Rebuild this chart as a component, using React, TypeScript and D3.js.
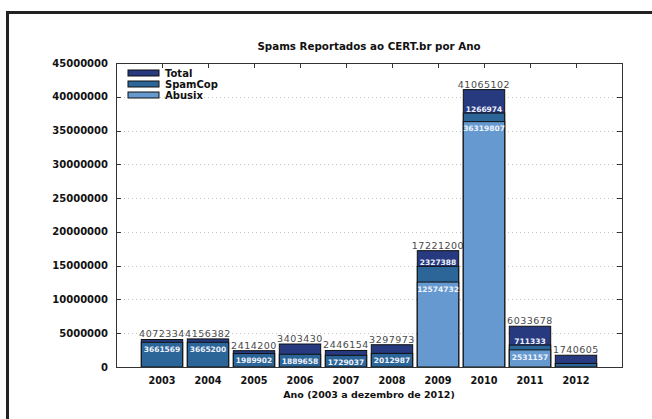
import * as d3 from "d3";

const WIDTH = 652;
const HEIGHT = 419;
const MARGIN = {top: 63, right: 30, bottom: 52, left: 116};

const years = [2003, 2004, 2005, 2006, 2007, 2008, 2009, 2010, 2011, 2012];
const totals = [4072334, 4156382, 2414200, 3403430, 2446154, 3297973, 17221200, 41065102, 6033678, 1740605];
const spamcop = [3661569, 3665200, 1989902, 1889658, 1729037, 2012987, 2327388, 1266974, 711333, 520000];
const abusix = [0, 0, 0, 0, 0, 0, 12574732, 36319807, 2531157, 0];
const showInner = [true, true, true, true, true, true, true, true, true, false];
const yTicks = [0, 5000000, 10000000, 15000000, 20000000, 25000000, 30000000, 35000000, 40000000, 45000000];

const COLORS = {total: "#27397f", spamcop: "#2c6699", abusix: "#6599cf"};
const FONT = "DejaVu Sans, sans-serif";

const App = () => {
    const boundsWidth = WIDTH - MARGIN.left - MARGIN.right;
    const boundsHeight = HEIGHT - MARGIN.top - MARGIN.bottom;

    const x = d3.scaleLinear().domain([2002, 2013]).range([0, boundsWidth]);
    const y = d3.scaleLinear().domain([0, 45000000]).range([boundsHeight, 0]);
    const barW = (x(2003) - x(2002)) * 0.9;

    // one entry per year, segments stacked abusix -> spamcop -> rest of total
    const bars = years.map((yr, i) => {
        const a = abusix[i];
        const s = spamcop[i];
        return {
            yr, i,
            x0: x(yr) - barW / 2,
            abusixTop: y(a),
            spamTop: y(a + s),
            totalTop: y(totals[i]),
        };
    });

    const legend = [
        {label: "Total", color: COLORS.total},
        {label: "SpamCop", color: COLORS.spamcop},
        {label: "Abusix", color: COLORS.abusix},
    ];

    return (
        <svg width={WIDTH} height={HEIGHT}
             style={{position: "absolute", left: 0, top: 0, background: "#fff"}}
             fontFamily={FONT}>
            {/* outer frame, open to the right and bottom */}
            <path d={`M7.5,${HEIGHT} V12.5 H${WIDTH}`} fill="none" stroke="#222" strokeWidth={3}/>

            <text x={MARGIN.left + boundsWidth / 2} y={50} textAnchor="middle"
                  fontSize={10.3} fontWeight="bold" fill="#111">Spams Reportados ao CERT.br por Ano</text>

            <g transform={`translate(${MARGIN.left},${MARGIN.top})`}>
                {yTicks.map(t => (
                    <g key={t}>
                        {t > 0 && t < 45000000 && (
                            <line x1={0} x2={boundsWidth} y1={Math.round(y(t)) + 0.5} y2={Math.round(y(t)) + 0.5}
                                  stroke="#c4c4c4" strokeWidth={1} strokeDasharray="1,3"/>
                        )}
                        <line x1={0} x2={5} y1={Math.round(y(t)) + 0.5} y2={Math.round(y(t)) + 0.5} stroke="#333"/>
                        <line x1={boundsWidth - 5} x2={boundsWidth} y1={Math.round(y(t)) + 0.5}
                              y2={Math.round(y(t)) + 0.5} stroke="#333"/>
                        <text x={-8} y={y(t)} dy="0.35em" textAnchor="end" fontSize={10}
                              fontWeight="bold" fill="#111">{t}</text>
                    </g>
                ))}

                {years.map(yr => (
                    <g key={yr}>
                        <line x1={Math.round(x(yr)) + 0.5} x2={Math.round(x(yr)) + 0.5} y1={0} y2={5} stroke="#333"/>
                        <text x={x(yr)} y={boundsHeight + 17} textAnchor="middle" fontSize={9.7}
                              fontWeight="bold" fill="#111">{yr}</text>
                    </g>
                ))}

                {bars.map(b => (
                    <g key={b.yr}>
                        <rect x={b.x0} y={b.totalTop} width={barW} height={boundsHeight - b.totalTop}
                              fill={COLORS.total} stroke="#111" strokeWidth={1}/>
                        <rect x={b.x0} y={b.spamTop} width={barW} height={boundsHeight - b.spamTop}
                              fill={COLORS.spamcop} stroke="#111" strokeWidth={1}/>
                        {abusix[b.i] > 0 && (
                            <rect x={b.x0} y={b.abusixTop} width={barW} height={boundsHeight - b.abusixTop}
                                  fill={COLORS.abusix} stroke="#111" strokeWidth={1}/>
                        )}
                        <text x={x(b.yr)} y={b.totalTop - 2} textAnchor="middle" fontSize={9.5}
                              letterSpacing={0.5} fill="#4a4a4a">{totals[b.i]}</text>
                        {showInner[b.i] && (
                            <text x={x(b.yr)} y={abusix[b.i] > 0 ? b.spamTop - 4 : b.spamTop + 7}
                                  dy="0.35em" textAnchor="middle" fontSize={7.5} fontWeight="bold"
                                  fill="#eef2fa">{spamcop[b.i]}</text>
                        )}
                        {abusix[b.i] > 0 && (
                            <text x={x(b.yr)} y={b.abusixTop + 7} dy="0.35em" textAnchor="middle"
                                  fontSize={7.5} fontWeight="bold" fill="#eef2fa">{abusix[b.i]}</text>
                        )}
                    </g>
                ))}

                {/* plot box */}
                <rect x={0.5} y={0.5} width={boundsWidth} height={boundsHeight} fill="none" stroke="#333"/>

                {legend.map((l, i) => (
                    <g key={l.label} transform={`translate(12,${10 + i * 11})`}>
                        <rect x={0} y={-3} width={31} height={6} fill={l.color} stroke="#111"/>
                        <text x={37} y={0} dy="0.35em" fontSize={10} fontWeight="bold" fill="#111">{l.label}</text>
                    </g>
                ))}
            </g>

            <text x={MARGIN.left + boundsWidth / 2} y={398} textAnchor="middle" fontSize={9.5}
                  fontWeight="bold" fill="#111">Ano (2003 a dezembro de 2012)</text>
        </svg>
    );
};

export default App;
